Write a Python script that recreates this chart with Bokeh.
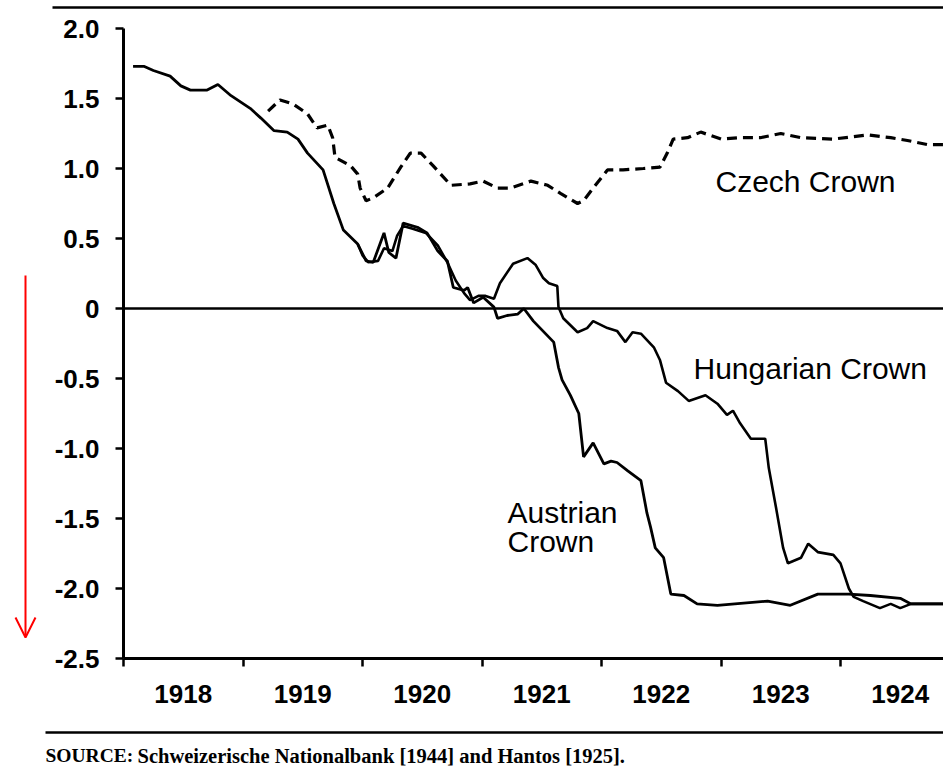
from bokeh.plotting import figure
from bokeh.models import Range1d, FixedTicker, Label, Arrow, OpenHead, LinearAxis
from bokeh.embed import file_html
from bokeh.resources import INLINE

# ---- data ----
tick_years = [1918, 1919, 1920, 1921, 1922, 1923, 1924]
year_labels = ["1918", "1919", "1920", "1921", "1922", "1923", "1924"]
y_ticks = [2.0, 1.5, 1.0, 0.5, 0.0, -0.5, -1.0, -1.5, -2.0, -2.5]
y_tick_labels = ["2.0", "1.5", "1.0", "0.5", "0", "-0.5", "-1.0", "-1.5", "-2.0", "-2.5"]

austrian_t = [1918.08, 1918.17, 1918.25, 1918.39, 1918.48, 1918.56, 1918.70, 1918.79, 1918.90,
              1919.06, 1919.15, 1919.26, 1919.37, 1919.46, 1919.54, 1919.67, 1919.76, 1919.84,
              1919.96, 1920.03, 1920.09, 1920.18, 1920.22, 1920.28, 1920.34, 1920.46, 1920.54,
              1920.63, 1920.71, 1920.76, 1920.85, 1920.88, 1920.93, 1921.01, 1921.10, 1921.13,
              1921.21, 1921.30, 1921.35, 1921.43, 1921.60, 1921.64, 1921.67, 1921.74, 1921.81,
              1921.85, 1921.93, 1922.02, 1922.08, 1922.13, 1922.22, 1922.33, 1922.38, 1922.41,
              1922.45, 1922.52, 1922.58, 1922.69, 1922.80, 1922.97, 1923.39, 1923.58, 1923.81,
              1924.07, 1924.25, 1924.50, 1924.59, 1924.86]
austrian_v = [1.73, 1.73, 1.70, 1.66, 1.59, 1.56, 1.56, 1.60, 1.52,
              1.43, 1.36, 1.27, 1.26, 1.21, 1.11, 0.99, 0.75, 0.56,
              0.46, 0.34, 0.33, 0.54, 0.40, 0.36, 0.61, 0.58, 0.54,
              0.41, 0.34, 0.15, 0.13, 0.15, 0.04, 0.08, 0.01, -0.07,
              -0.05, -0.04, 0.00, -0.09, -0.24, -0.42, -0.51, -0.62, -0.75,
              -1.06, -0.96, -1.11, -1.09, -1.10, -1.16, -1.23, -1.46, -1.56,
              -1.71, -1.78, -2.04, -2.05, -2.11, -2.12, -2.09, -2.12, -2.04,
              -2.04, -2.05, -2.07, -2.11, -2.11]

hungarian_t = [1919.96, 1920.00, 1920.05, 1920.13, 1920.18, 1920.25, 1920.29, 1920.34, 1920.42,
               1920.53, 1920.63, 1920.71, 1920.78, 1920.85, 1920.90, 1920.97, 1921.03, 1921.10,
               1921.15, 1921.26, 1921.38, 1921.45, 1921.51, 1921.56, 1921.63, 1921.64, 1921.68,
               1921.80, 1921.88, 1921.93, 1922.05, 1922.13, 1922.20, 1922.26, 1922.33, 1922.44,
               1922.49, 1922.54, 1922.64, 1922.73, 1922.87, 1922.97, 1923.05, 1923.10, 1923.16,
               1923.25, 1923.37, 1923.40, 1923.46, 1923.52, 1923.56, 1923.67, 1923.73, 1923.81,
               1923.94, 1924.00, 1924.07, 1924.11, 1924.19, 1924.33, 1924.42, 1924.50, 1924.59,
               1924.86]
hungarian_v = [0.46, 0.38, 0.33, 0.34, 0.43, 0.41, 0.52, 0.59, 0.57,
               0.54, 0.45, 0.33, 0.20, 0.11, 0.06, 0.09, 0.09, 0.07,
               0.18, 0.32, 0.36, 0.31, 0.22, 0.18, 0.16, 0.01, -0.07,
               -0.17, -0.14, -0.09, -0.14, -0.16, -0.24, -0.17, -0.18, -0.28,
               -0.37, -0.53, -0.59, -0.66, -0.62, -0.68, -0.76, -0.73, -0.82,
               -0.93, -0.93, -1.14, -1.42, -1.71, -1.82, -1.78, -1.68, -1.74,
               -1.76, -1.82, -2.00, -2.06, -2.09, -2.14, -2.11, -2.14, -2.11,
               -2.11]

czech_t = [1919.21, 1919.31, 1919.42, 1919.54, 1919.62, 1919.71, 1919.75, 1919.77, 1919.90,
           1919.96, 1919.98, 1920.03, 1920.09, 1920.21, 1920.32, 1920.40, 1920.49, 1920.59,
           1920.74, 1920.90, 1921.01, 1921.13, 1921.24, 1921.41, 1921.55, 1921.66, 1921.80,
           1921.85, 1921.93, 1922.05, 1922.18, 1922.35, 1922.49, 1922.55, 1922.60, 1922.72,
           1922.83, 1923.00, 1923.16, 1923.33, 1923.50, 1923.67, 1923.94, 1924.23, 1924.42,
           1924.56, 1924.73, 1924.86]
czech_v = [1.41, 1.49, 1.46, 1.39, 1.29, 1.31, 1.22, 1.08, 1.02,
           0.96, 0.86, 0.77, 0.79, 0.86, 1.01, 1.11, 1.11, 1.02,
           0.88, 0.89, 0.91, 0.86, 0.86, 0.91, 0.88, 0.82, 0.75,
           0.77, 0.86, 0.99, 0.99, 1.00, 1.01, 1.11, 1.21, 1.22,
           1.26, 1.21, 1.22, 1.22, 1.25, 1.22, 1.21, 1.24, 1.22,
           1.20, 1.17, 1.17]

FONT = "Liberation Sans"
W, H = 943, 769
PX_PER_YEAR = 119.5
PX_PER_UNIT = 140.0
AX_X, ZERO_Y = 123, 308        # pixel position of 1918.0 and of value 0
X0 = 1918.0 - AX_X / PX_PER_YEAR
X1 = 1918.0 + (W - AX_X) / PX_PER_YEAR
Y1 = ZERO_Y / PX_PER_UNIT
Y0 = (ZERO_Y - H) / PX_PER_UNIT


def px_x(px):
    return 1918.0 + (px - AX_X) / PX_PER_YEAR


def px_y(py):
    return (ZERO_Y - py) / PX_PER_UNIT


p = figure(width=W, height=H, x_range=Range1d(X0, X1), y_range=Range1d(Y0, Y1),
           output_backend="svg", toolbar_location=None,
           x_axis_location=None, y_axis_location=None,
           min_border_left=0, min_border_right=0, min_border_top=0, min_border_bottom=0)
p.outline_line_color = None
p.grid.visible = False
p.background_fill_color = "white"
p.border_fill_color = "white"

# x axis: labels centred in each year, ticks at the year boundaries
xa = LinearAxis(fixed_location=-2.5, bounds=(1918.0, X1))
xa.ticker = FixedTicker(ticks=[y + 0.5 for y in tick_years], minor_ticks=tick_years)
xa.major_label_overrides = {y + 0.5: lab for y, lab in zip(tick_years, year_labels)}
xa.axis_line_width = 3
xa.major_tick_out = 0
xa.major_tick_in = 0
xa.minor_tick_out = 8
xa.minor_tick_in = 0
xa.minor_tick_line_width = 2.5
xa.major_label_text_font = FONT
xa.major_label_text_font_size = "26px"
xa.major_label_text_font_style = "bold"
xa.major_label_text_color = "black"
xa.major_label_standoff = 18
p.add_layout(xa, "below")

ya = LinearAxis(fixed_location=1918.0, bounds=(-2.5, 2.0))
ya.ticker = FixedTicker(ticks=y_ticks)
ya.major_label_overrides = {v: lab for v, lab in zip(y_ticks, y_tick_labels)}
ya.axis_line_width = 3
ya.major_tick_out = 8
ya.major_tick_in = 0
ya.major_tick_line_width = 2.5
ya.minor_tick_line_color = None
ya.major_label_text_font = FONT
ya.major_label_text_font_size = "26px"
ya.major_label_text_font_style = "bold"
ya.major_label_text_color = "black"
ya.major_label_standoff = 16
p.add_layout(ya, "left")

# zero reference line
p.add_layout(Arrow(end=None, x_start=1918.0, y_start=0, x_end=X1, y_end=0,
                   line_color="black", line_width=2.5))

p.line(austrian_t, austrian_v, line_color="black", line_width=2.8)
p.line(hungarian_t, hungarian_v, line_color="black", line_width=2.6)
p.line(czech_t, czech_v, line_color="black", line_width=3.2, line_dash="10 6")

lab_kw = dict(text_font=FONT, text_font_size="30px", text_color="black", text_baseline="middle")
p.add_layout(Label(x=px_x(715), y=px_y(181), text="Czech Crown", **lab_kw))
p.add_layout(Label(x=px_x(693), y=px_y(368), text="Hungarian Crown", **lab_kw))
p.add_layout(Label(x=px_x(507), y=px_y(512), text="Austrian", **lab_kw))
p.add_layout(Label(x=px_x(507), y=px_y(541), text="Crown", **lab_kw))

# rules above and below, source line
p.add_layout(Arrow(end=None, x_start=px_x(52), y_start=px_y(7), x_end=X1, y_end=px_y(7),
                   line_color="black", line_width=2.5))
p.add_layout(Arrow(end=None, x_start=px_x(45), y_start=px_y(732), x_end=X1, y_end=px_y(732),
                   line_color="black", line_width=2.5))
src_kw = dict(text_font="Liberation Serif", text_font_style="bold", text_color="black",
              text_baseline="alphabetic")
p.add_layout(Label(x=px_x(45), y=px_y(755), text="SOURCE:", text_font_size="19.5px", **src_kw))
p.add_layout(Label(x=px_x(137), y=px_y(755),
                   text="Schweizerische Nationalbank [1944] and Hantos [1925].",
                   text_font_size="20.5px", **src_kw))

# red arrow on the left
p.add_layout(Arrow(end=OpenHead(size=20, line_color="red", line_width=2),
                   x_start=px_x(25), y_start=px_y(275), x_end=px_x(25), y_end=px_y(637),
                   line_color="red", line_width=2))

open("out.html", "w").write(file_html(p, INLINE))
